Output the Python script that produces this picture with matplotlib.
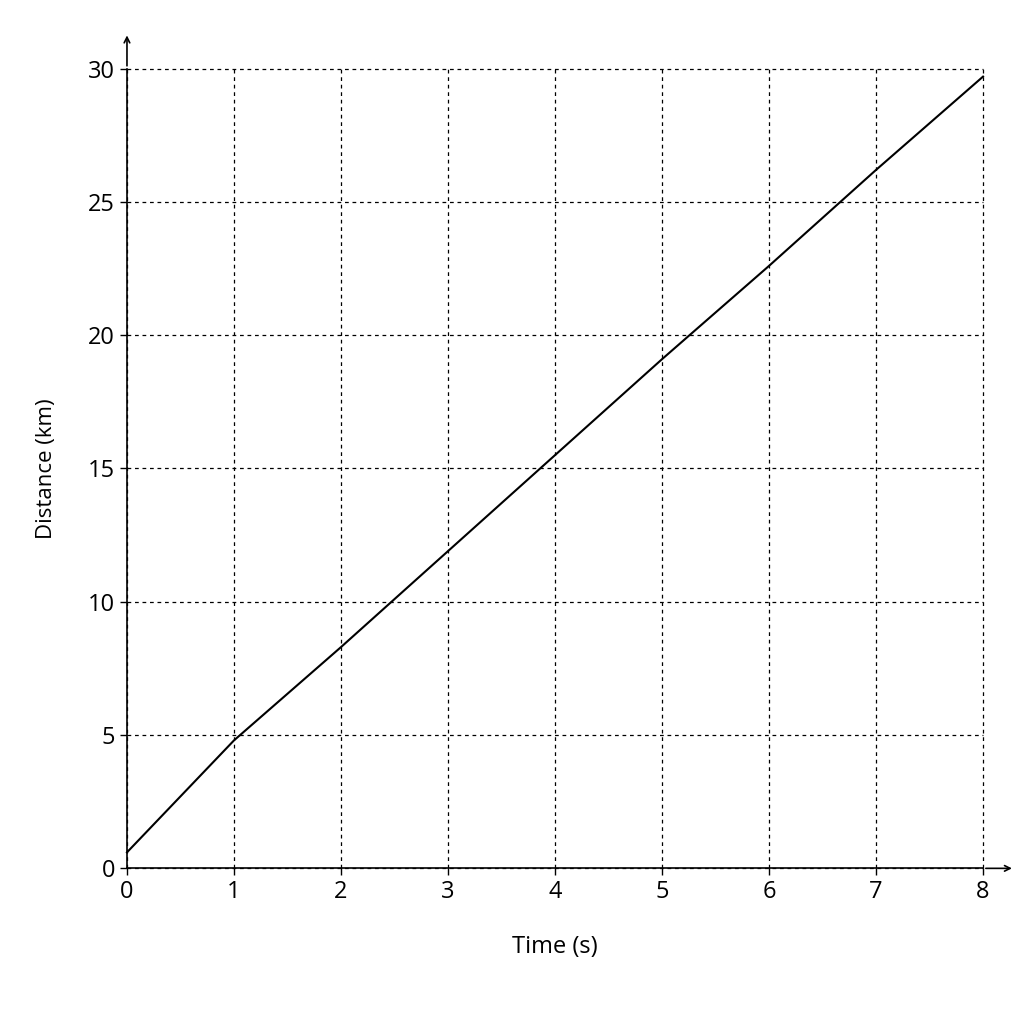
import matplotlib.pyplot as plt

time_s = [0, 1, 2, 3, 4, 5, 6, 7, 8]
distance_km = [0.6, 4.8, 8.3, 11.9, 15.5, 19.1, 22.6, 26.2, 29.7]
x_ticks = [0, 1, 2, 3, 4, 5, 6, 7, 8]
y_ticks = [0, 5, 10, 15, 20, 25, 30]

plt.rcParams['font.family'] = ['Open Sans', 'DejaVu Sans']

fig = plt.figure(figsize=(10.24, 10.24), dpi=100)
ax = fig.add_axes([0.124, 0.152, 0.836, 0.781])
ax.plot(time_s, distance_km, color='black', lw=1.5, clip_on=False)

ax.set_xlim(0, 8)
ax.set_ylim(0, 30)
ax.set_xticks(x_ticks)
ax.set_yticks(y_ticks)
ax.tick_params(labelsize=17, length=5, width=1)
ax.grid(True, color='black', linestyle=(0, (3, 3)), lw=0.9, clip_on=False)
for s in ['top', 'right']:
    ax.spines[s].set_visible(False)
for s in ['left', 'bottom']:
    ax.spines[s].set_linewidth(1.2)
    ax.spines[s].set_zorder(3)

# axis arrows
ax.annotate('', xy=(1.037, 0), xytext=(1.0, 0), xycoords='axes fraction',
            arrowprops=dict(arrowstyle='->', lw=1.2, color='black'))
ax.annotate('', xy=(0, 1.045), xytext=(0, 1.0), xycoords='axes fraction',
            arrowprops=dict(arrowstyle='->', lw=1.2, color='black'))

ax.set_xlabel('Time (s)', fontsize=17, labelpad=22)
ax.set_ylabel('Distance (km)', fontsize=16, labelpad=22)

fig.savefig('out.png', dpi=100)
